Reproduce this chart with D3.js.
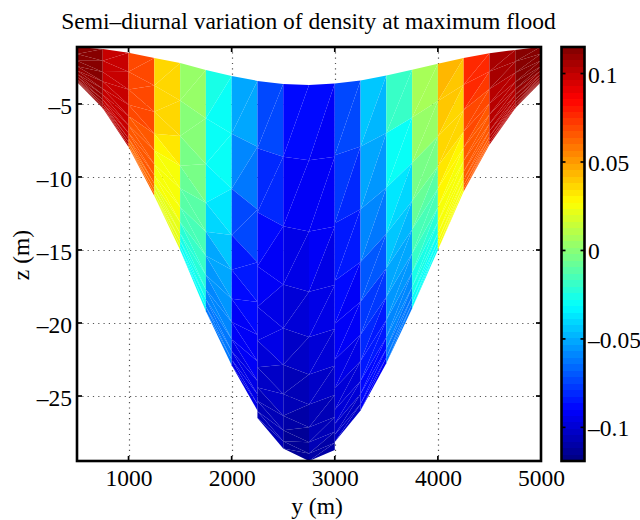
<!DOCTYPE html>
<html><head><meta charset="utf-8">
<script src="https://cdn.jsdelivr.net/npm/d3@7"></script>
<style>
html,body{margin:0;padding:0;background:#fff}
svg{display:block}
text{font-family:"Liberation Serif",serif;fill:#000}
</style></head><body>
<svg id="c" width="640" height="520"></svg>
<script>
const titleText = "Semi\u2013diurnal variation of density at maximum flood";
const xLabel = "y (m)", yLabel = "z (m)";
const xTicks = [1000,2000,3000,4000,5000];
const zTicks = [-5,-10,-15,-20,-25];
const cTicks = [0.1,0.05,0,-0.05,-0.1];
const columnEdges = [500,750,1000,1250,1500,1750,2000,2250,2500,2750,3000,3250,3500,3750,4000,4250,4500,4750,5000];
const surface = [-1.1,-1.23,-1.5,-1.85,-2.2,-2.67,-3.08,-3.42,-3.63,-3.7,-3.6,-3.4,-3.05,-2.65,-2.25,-1.85,-1.52,-1.3,-1.08];
const bottomLeft  = [-3.5,-5.3,-7.95,-11.3,-15,-19.2,-22.9,-26.5,-28.6,-29.45,-28.15,-26,-22.75,-19,-15,-11,-7.8,-5.3];
const bottomRight = [-5.3,-7.95,-11.3,-15,-19.2,-22.9,-26,-28.6,-29.45,-28.7,-26,-22.75,-19,-15,-11,-7.8,-5.3,-3.5];
const sigma = [0,0.2,0.39,0.55,0.67,0.77,0.85,0.91,0.95,0.98,1];
// per column, per layer: upper then lower triangle
const density = [
[.114,.113,.113,.113,.112,.112,.111,.111,.110,.110,.110,.110,.109,.109,.108,.108,.108,.108,.108,.108],
[.098,.098,.098,.098,.098,.098,.099,.099,.100,.100,.100,.100,.100,.100,.101,.101,.101,.101,.101,.101],
[.070,.070,.070,.070,.070,.069,.068,.067,.066,.066,.065,.065,.064,.064,.063,.063,.063,.063,.062,.062],
[.037,.037,.037,.036,.036,.034,.028,.027,.027,.026,.025,.024,.024,.023,.022,.022,.021,.021,.021,.021],
[.005,.004,.001,-.001,-.002,-.004,-.008,-.010,-.012,-.014,-.016,-.018,-.021,-.023,-.025,-.026,-.028,-.029,-.030,-.031],
[-.025,-.028,-.030,-.031,-.032,-.036,-.042,-.045,-.050,-.052,-.054,-.056,-.058,-.059,-.060,-.061,-.061,-.062,-.062,-.062],
[-.052,-.053,-.060,-.061,-.073,-.075,-.084,-.085,-.088,-.089,-.090,-.091,-.092,-.093,-.094,-.094,-.095,-.095,-.095,-.095],
[-.072,-.073,-.081,-.082,-.089,-.090,-.092,-.094,-.096,-.097,-.100,-.101,-.103,-.104,-.105,-.106,-.106,-.107,-.107,-.107],
[-.088,-.089,-.091,-.092,-.096,-.097,-.098,-.100,-.102,-.104,-.106,-.107,-.108,-.110,-.111,-.112,-.113,-.113,-.114,-.114],
[-.089,-.090,-.091,-.092,-.092,-.094,-.096,-.097,-.099,-.100,-.102,-.103,-.105,-.106,-.107,-.108,-.108,-.109,-.109,-.109],
[-.072,-.073,-.078,-.079,-.083,-.085,-.089,-.090,-.092,-.093,-.095,-.096,-.098,-.099,-.100,-.100,-.101,-.101,-.101,-.101],
[-.045,-.047,-.053,-.055,-.060,-.062,-.068,-.071,-.076,-.078,-.081,-.083,-.085,-.086,-.088,-.088,-.089,-.089,-.090,-.090],
[-.018,-.020,-.030,-.031,-.036,-.040,-.045,-.047,-.050,-.052,-.054,-.056,-.058,-.059,-.060,-.061,-.062,-.062,-.062,-.062],
[.007,.006,.004,.002,-.002,-.004,-.007,-.010,-.014,-.016,-.019,-.021,-.024,-.025,-.027,-.028,-.029,-.029,-.030,-.030],
[.042,.041,.039,.038,.037,.035,.033,.030,.028,.027,.026,.025,.025,.025,.025,.025,.025,.025,.025,.025],
[.078,.077,.075,.073,.071,.070,.068,.067,.066,.066,.065,.065,.065,.065,.065,.065,.064,.064,.064,.064],
[.105,.105,.105,.105,.104,.104,.104,.104,.104,.104,.103,.103,.103,.103,.103,.103,.103,.103,.103,.103],
[.113,.113,.113,.113,.112,.112,.112,.112,.111,.111,.111,.111,.111,.111,.110,.110,.110,.110,.110,.110]
];
const cDomain = [-0.119,0.115];
const levels = 64;

function jet(t){
  const cl=v=>Math.max(0,Math.min(1,v));
  const r=cl(Math.min(4*t-1.5,-4*t+4.5)), g=cl(Math.min(4*t-.5,-4*t+3.5)), b=cl(Math.min(4*t+.5,-4*t+2.5));
  return d3.rgb(r*255,g*255,b*255).formatHex();
}
const palette = d3.range(levels).map(i=>jet((i+.5)/levels));
const color = d3.scaleQuantize().domain(cDomain).range(palette);

const svg = d3.select("#c");
const plot = {l:77,r:541,t:47,b:461};
const x = d3.scaleLinear().domain([500,5000]).range([plot.l,plot.r]);
const y = d3.scaleLinear().domain([-29.45,-1.1]).range([plot.b,plot.t]);
const dash = s=>String(s).replace("-","\u2013");

// grid
const grid = svg.append("g").attr("stroke","#555").attr("stroke-width",1.2).attr("stroke-dasharray","1.2 4.1");
grid.selectAll("line.v").data(xTicks.slice(0,-1)).join("line").attr("x1",d=>Math.round(x(d))+.5).attr("x2",d=>Math.round(x(d))+.5).attr("y1",plot.t).attr("y2",plot.b);
grid.selectAll("line.h").data(zTicks).join("line").attr("y1",d=>Math.round(y(d))+.5).attr("y2",d=>Math.round(y(d))+.5).attr("x1",plot.l).attr("x2",plot.r);

// mesh
const tris=[];
density.forEach((col,c)=>{
  const yl=columnEdges[c], yr=columnEdges[c+1];
  const zl=s=>surface[c]+s*(bottomLeft[c]-surface[c]);
  const zr=s=>surface[c+1]+s*(bottomRight[c]-surface[c+1]);
  for(let k=0;k<sigma.length-1;k++){
    const a=[yl,zl(sigma[k])], b=[yr,zr(sigma[k])], d=[yl,zl(sigma[k+1])], e=[yr,zr(sigma[k+1])];
    tris.push({pts:[a,b,d],v:col[2*k]});
    tris.push({pts:[d,b,e],v:col[2*k+1]});
  }
});
const line=d3.line().x(p=>x(p[0])).y(p=>y(p[1])).curve(d3.curveLinearClosed);
svg.append("g").attr("shape-rendering","geometricPrecision").selectAll("path").data(tris).join("path")
  .attr("d",d=>line(d.pts)).attr("fill",d=>color(d.v));

// axes
const fs="23.5px";
const bottom=d3.axisBottom(x).tickValues(xTicks).tickSize(0).tickPadding(8.3).tickFormat(d=>d);
const left=d3.axisLeft(y).tickValues(zTicks).tickSize(0).tickPadding(5).tickFormat(dash);
function styleAxis(g){g.select(".domain").remove();g.selectAll("text").attr("font-size",fs).style("font-family",'"Liberation Serif",serif');}
svg.append("g").attr("transform",`translate(0,${plot.b})`).call(bottom).call(styleAxis);
svg.append("g").attr("transform",`translate(${plot.l},0)`).call(left).call(styleAxis).selectAll("text").attr("dy","0.39em");
const inner=5;
const tk=svg.append("g").attr("stroke","#000").attr("stroke-width",1.7);
xTicks.slice(0,-1).forEach(v=>{[[plot.t,plot.t+inner],[plot.b,plot.b-inner]].forEach(p=>tk.append("line").attr("x1",x(v)).attr("x2",x(v)).attr("y1",p[0]).attr("y2",p[1]));});
zTicks.forEach(v=>{[[plot.l,plot.l+inner],[plot.r,plot.r-inner]].forEach(p=>tk.append("line").attr("y1",y(v)).attr("y2",y(v)).attr("x1",p[0]).attr("x2",p[1]));});
svg.append("rect").attr("x",plot.l).attr("y",plot.t).attr("width",plot.r-plot.l).attr("height",plot.b-plot.t).attr("fill","none").attr("stroke","#000").attr("stroke-width",2.6);

// colorbar
const cb={l:561.5,r:584.5};
const cy=d3.scaleLinear().domain(cDomain).range([plot.b,plot.t]);
const bandH=(plot.b-plot.t)/levels;
svg.append("g").selectAll("rect").data(palette).join("rect")
  .attr("x",cb.l).attr("width",cb.r-cb.l).attr("y",(d,i)=>plot.b-(i+1)*bandH-.3).attr("height",bandH+.6).attr("fill",d=>d).attr("shape-rendering","crispEdges");
const cbTick=svg.append("g").attr("stroke","#000").attr("stroke-width",1.7);
cTicks.forEach(v=>{[[cb.l,cb.l+4],[cb.r,cb.r-4]].forEach(p=>cbTick.append("line").attr("y1",cy(v)).attr("y2",cy(v)).attr("x1",p[0]).attr("x2",p[1]));});
svg.append("rect").attr("x",cb.l).attr("y",plot.t).attr("width",cb.r-cb.l).attr("height",plot.b-plot.t).attr("fill","none").attr("stroke","#000").attr("stroke-width",2.6);
const cAxis=d3.axisRight(cy).tickValues(cTicks).tickSize(0).tickPadding(3.5).tickFormat(dash);
svg.append("g").attr("transform",`translate(${cb.r},0)`).call(cAxis).call(styleAxis).selectAll("text").attr("dy","0.36em");

// labels
svg.append("text").attr("x",308.5).attr("y",28.5).attr("text-anchor","middle").attr("font-size",fs).text(titleText);
svg.append("text").attr("x",317).attr("y",514).attr("text-anchor","middle").attr("font-size",fs).text(xLabel);
svg.append("text").attr("transform","translate(29,255) rotate(-90)").attr("text-anchor","middle").attr("font-size",fs).text(yLabel);
</script></body></html>
